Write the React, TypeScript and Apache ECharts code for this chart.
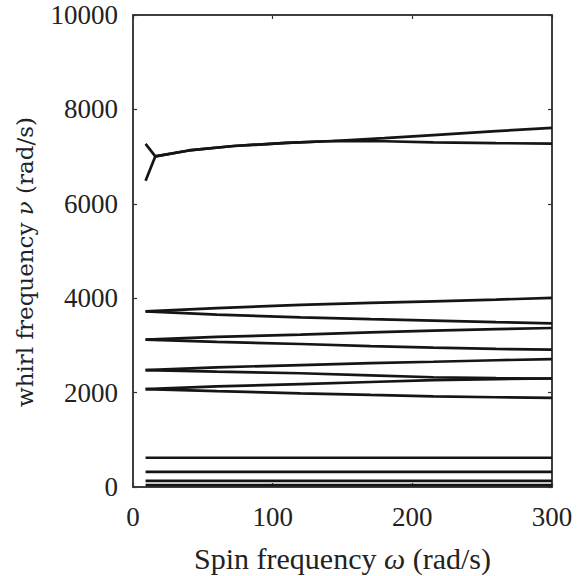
import React, { useEffect, useRef } from "react";
import * as echarts from "echarts";

// Spin frequency (rad/s) sample points for each branch
const omegaPairs = [9, 60, 120, 170, 215, 260, 300];
const pair1Up = [3722, 3790, 3857, 3900, 3934, 3970, 4006];
const pair1Down = [3722, 3650, 3594, 3555, 3524, 3492, 3467];
const pair2Up = [3121, 3180, 3227, 3275, 3312, 3345, 3369];
const pair2Down = [3121, 3075, 3030, 2985, 2952, 2925, 2909];
const pair3Up = [2477, 2535, 2584, 2625, 2654, 2685, 2711];
const pair3Down = [2477, 2445, 2410, 2365, 2325, 2305, 2299];
const pair4Up = [2074, 2130, 2180, 2225, 2265, 2285, 2299];
const pair4Down = [2074, 2030, 1985, 1950, 1921, 1902, 1890];

const omegaTop = [9, 16, 40, 72, 110, 143, 180, 215, 260, 300];
const topUpper = [7270, 7006, 7130, 7225, 7290, 7331, 7390, 7455, 7540, 7607];
const topLower = [6486, 7006, 7130, 7225, 7290, 7331, 7325, 7300, 7285, 7276];

const omegaFlat = [9, 300];
const flatLevels = [620, 320, 130, 40];

const xTicks = [0, 100, 200, 300];
const yTicks = [0, 2000, 4000, 6000, 8000, 10000];

const FONT = "Liberation Serif";
const YNAME_FONT = "DejaVu Serif";

export default function App() {
  const ref = useRef<HTMLDivElement>(null);
  useEffect(() => {
    if (!ref.current) return;
    const chart = echarts.init(ref.current, undefined, { renderer: "svg" });
    const mk = (xs: number[], ys: number[]) => xs.map((x, i) => [x, ys[i]]);
    const lineSeries = (data: number[][]) => ({
      type: "line",
      data,
      showSymbol: false,
      symbol: "none",
      lineStyle: { color: "#151515", width: 2.7 },
      silent: true,
    });
    const series: any[] = [
      lineSeries(mk(omegaPairs, pair1Up)),
      lineSeries(mk(omegaPairs, pair1Down)),
      lineSeries(mk(omegaPairs, pair2Up)),
      lineSeries(mk(omegaPairs, pair2Down)),
      lineSeries(mk(omegaPairs, pair3Up)),
      lineSeries(mk(omegaPairs, pair3Down)),
      lineSeries(mk(omegaPairs, pair4Up)),
      lineSeries(mk(omegaPairs, pair4Down)),
      lineSeries(mk(omegaTop, topUpper)),
      lineSeries(mk(omegaTop, topLower)),
      ...flatLevels.map((v) => lineSeries(omegaFlat.map((x) => [x, v]))),
      { type: "line", data: [], xAxisIndex: 1, yAxisIndex: 1, silent: true },
    ];
    const mkLine = () => ({ show: true, onZero: false, lineStyle: { color: "#333", width: 1.5 } });
    const mkTick = () => ({ show: true, inside: true, length: 4, lineStyle: { color: "#333", width: 1.2 } });
    const fmt = (v: number) => String(v);
    chart.setOption({
      animation: false,
      grid: {
        left: 133,
        right: 29,
        top: 15,
        bottom: 89,
        outerBoundsMode: "none",
        containLabel: false,
        show: true,
        borderColor: "#333",
        borderWidth: 1.5,
        backgroundColor: "transparent",
      },
      graphic: [
        {
          type: "text",
          x: 25,
          y: 262,
          rotation: Math.PI / 2,
          silent: true,
          style: {
            text: "{n|whirl frequency }{i|ν}{n| (rad/s)}",
            align: "center",
            verticalAlign: "middle",
            rich: {
              n: { fontFamily: YNAME_FONT, fontSize: 23, fill: "#222" },
              i: { fontFamily: YNAME_FONT, fontSize: 23, fill: "#222", fontStyle: "italic" },
            },
          },
        },
      ],
      xAxis: [
        {
          type: "value",
          min: xTicks[0],
          max: xTicks[xTicks.length - 1],
          interval: 100,
          position: "bottom",
          axisLine: mkLine(),
          axisTick: mkTick(),
          splitLine: { show: false },
          axisLabel: { fontFamily: FONT, fontSize: 27, color: "#222", margin: 16, formatter: fmt },
          name: "{n|Spin frequency }{i|ω}{n| (rad/s)}",
          nameLocation: "middle",
          nameGap: 56,
          nameTextStyle: {
            rich: {
              n: { fontFamily: FONT, fontSize: 30, color: "#222" },
              i: { fontFamily: FONT, fontSize: 30, color: "#222", fontStyle: "italic" },
            },
          },
        },
        {
          type: "value",
          min: 0,
          max: 300,
          interval: 100,
          position: "top",
          axisLine: mkLine(),
          axisTick: mkTick(),
          splitLine: { show: false },
          axisLabel: { show: false },
        },
      ],
      yAxis: [
        {
          type: "value",
          min: yTicks[0],
          max: yTicks[yTicks.length - 1],
          interval: 2000,
          position: "left",
          axisLine: mkLine(),
          axisTick: mkTick(),
          splitLine: { show: false },
          axisLabel: { fontFamily: FONT, fontSize: 27, color: "#222", margin: 15, formatter: fmt },
        },
        {
          type: "value",
          min: 0,
          max: 10000,
          interval: 2000,
          position: "right",
          axisLine: mkLine(),
          axisTick: mkTick(),
          splitLine: { show: false },
          axisLabel: { show: false },
        },
      ],
      series,
    });
    return () => chart.dispose();
  }, []);
  return (
    <div
      ref={ref}
      style={{ position: "absolute", left: 0, top: 0, width: 581, height: 576 }}
    />
  );
}
